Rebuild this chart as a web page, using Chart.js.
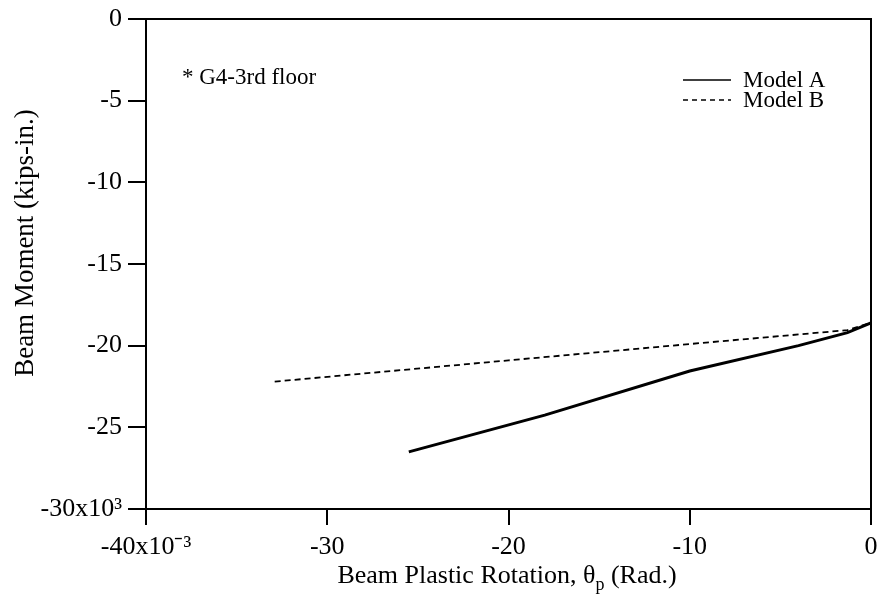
<!DOCTYPE html>
<html>
<head>
<meta charset="utf-8">
<script src="https://cdn.jsdelivr.net/npm/chart.js@4/dist/chart.umd.min.js"></script>
<style>
  html, body { margin: 0; padding: 0; background: #fff; }
  #wrap { width: 881px; height: 596px; }
</style>
</head>
<body>
<div id="wrap"><canvas id="momentChart" width="881" height="596"></canvas></div>
<script>
// rotation in 10^-3 rad, moment in 10^3 kips-in.
const modelA_rot = [-25.5, -18, -10, -4, -1.3, 0];
const modelA_mom = [-26.5, -24.25, -21.55, -20.0, -19.2, -18.6];
const modelB_rot = [-32.9, -20, -10, -1.3, 0];
const modelB_mom = [-22.2, -20.9, -19.9, -19.05, -18.6];
const xTicks = [-40, -30, -20, -10, 0];
const yTicks = [0, -5, -10, -15, -20, -25, -30];

const serif = "'Liberation Serif', 'Times New Roman', serif";

function toPoints(xs, ys) {
    return xs.map((x, i) => ({ x: x, y: ys[i] }));
}

// frame, axis titles (subscript), legend and note
const extras = {
    id: 'extras',
    afterDraw(chart) {
        const c = chart.ctx;
        const a = chart.chartArea;
        c.save();
        c.strokeStyle = '#000';
        c.lineWidth = 2;
        c.strokeRect(a.left, a.top, a.right - a.left, a.bottom - a.top);

        c.fillStyle = '#000';
        c.textBaseline = 'alphabetic';
        c.textAlign = 'left';

        // x axis title with subscript p
        const big = '26px ' + serif, small = '18px ' + serif;
        let t1 = 'Beam Plastic Rotation, \u03b8';
        let t2 = ' (Rad.)';
        c.font = small;
        let wp = c.measureText('p').width;
        c.font = big;
        let w1 = c.measureText(t1).width;
        let w = w1 + wp + c.measureText(t2).width;
        let x0 = 507 - w / 2;
        let y0 = 583;
        c.fillText(t1, x0, y0);
        c.font = small;
        c.fillText('p', x0 + w1, y0 + 7);
        c.font = big;
        c.fillText(t2, x0 + w1 + wp, y0);

        // y axis title
        c.save();
        c.translate(33, 243);
        c.rotate(-Math.PI / 2);
        c.textAlign = 'center';
        c.font = '27px ' + serif;
        c.fillText('Beam Moment (kips-in.)', 0, 0);
        c.restore();

        // note
        c.font = '23px ' + serif;
        c.fillText('* G4-3rd floor', 182, 84);

        // legend
        c.fillText('Model A', 743, 87);
        c.fillText('Model B', 743, 107);
        c.lineWidth = 1.5;
        c.beginPath();
        c.moveTo(683, 80); c.lineTo(731, 80);
        c.stroke();
        c.setLineDash([5, 4]);
        c.beginPath();
        c.moveTo(683, 100); c.lineTo(731, 100);
        c.stroke();
        c.restore();
    }
};

const ctx = document.getElementById('momentChart').getContext('2d');
new Chart(ctx, {
    type: 'scatter',
    data: {
        datasets: [
            {
                label: 'Model A',
                data: toPoints(modelA_rot, modelA_mom),
                showLine: true,
                borderColor: '#000',
                borderWidth: 3,
                pointRadius: 0,
                tension: 0
            },
            {
                label: 'Model B',
                data: toPoints(modelB_rot, modelB_mom),
                showLine: true,
                borderColor: '#000',
                borderWidth: 1.8,
                borderDash: [6, 4],
                pointRadius: 0,
                tension: 0
            }
        ]
    },
    options: {
        responsive: false,
        animation: false,
        layout: { padding: { top: 19, right: 10, left: 0, bottom: 0 } },
        plugins: { legend: { display: false }, tooltip: { enabled: false } },
        scales: {
            x: {
                type: 'linear',
                min: -40, max: 0,
                afterBuildTicks: s => { s.ticks = xTicks.map(v => ({ value: v })); },
                afterFit: s => { s.height = 87; s.paddingLeft = 0; s.paddingRight = 0; },
                grid: { drawOnChartArea: false, tickLength: 16, color: '#000', lineWidth: 2 },
                border: { color: '#000', width: 2 },
                ticks: {
                    color: '#000',
                    padding: 7,
                    maxRotation: 0,
                    font: { family: serif, size: 26 },
                    callback: v => v === -40 ? '-40x10\u207b\u00b3' : String(v)
                }
            },
            y: {
                type: 'linear',
                min: -30, max: 0,
                afterBuildTicks: s => { s.ticks = yTicks.map(v => ({ value: v })); },
                afterFit: s => { s.width = 146; s.paddingTop = 0; s.paddingBottom = 0; },
                grid: { drawOnChartArea: false, tickLength: 18, color: '#000', lineWidth: 2 },
                border: { color: '#000', width: 2 },
                ticks: {
                    color: '#000',
                    padding: 6,
                    font: { family: serif, size: 26 },
                    callback: v => v === -30 ? '-30x10\u00b3' : String(v)
                }
            }
        }
    },
    plugins: [extras]
});
</script>
</body>
</html>
